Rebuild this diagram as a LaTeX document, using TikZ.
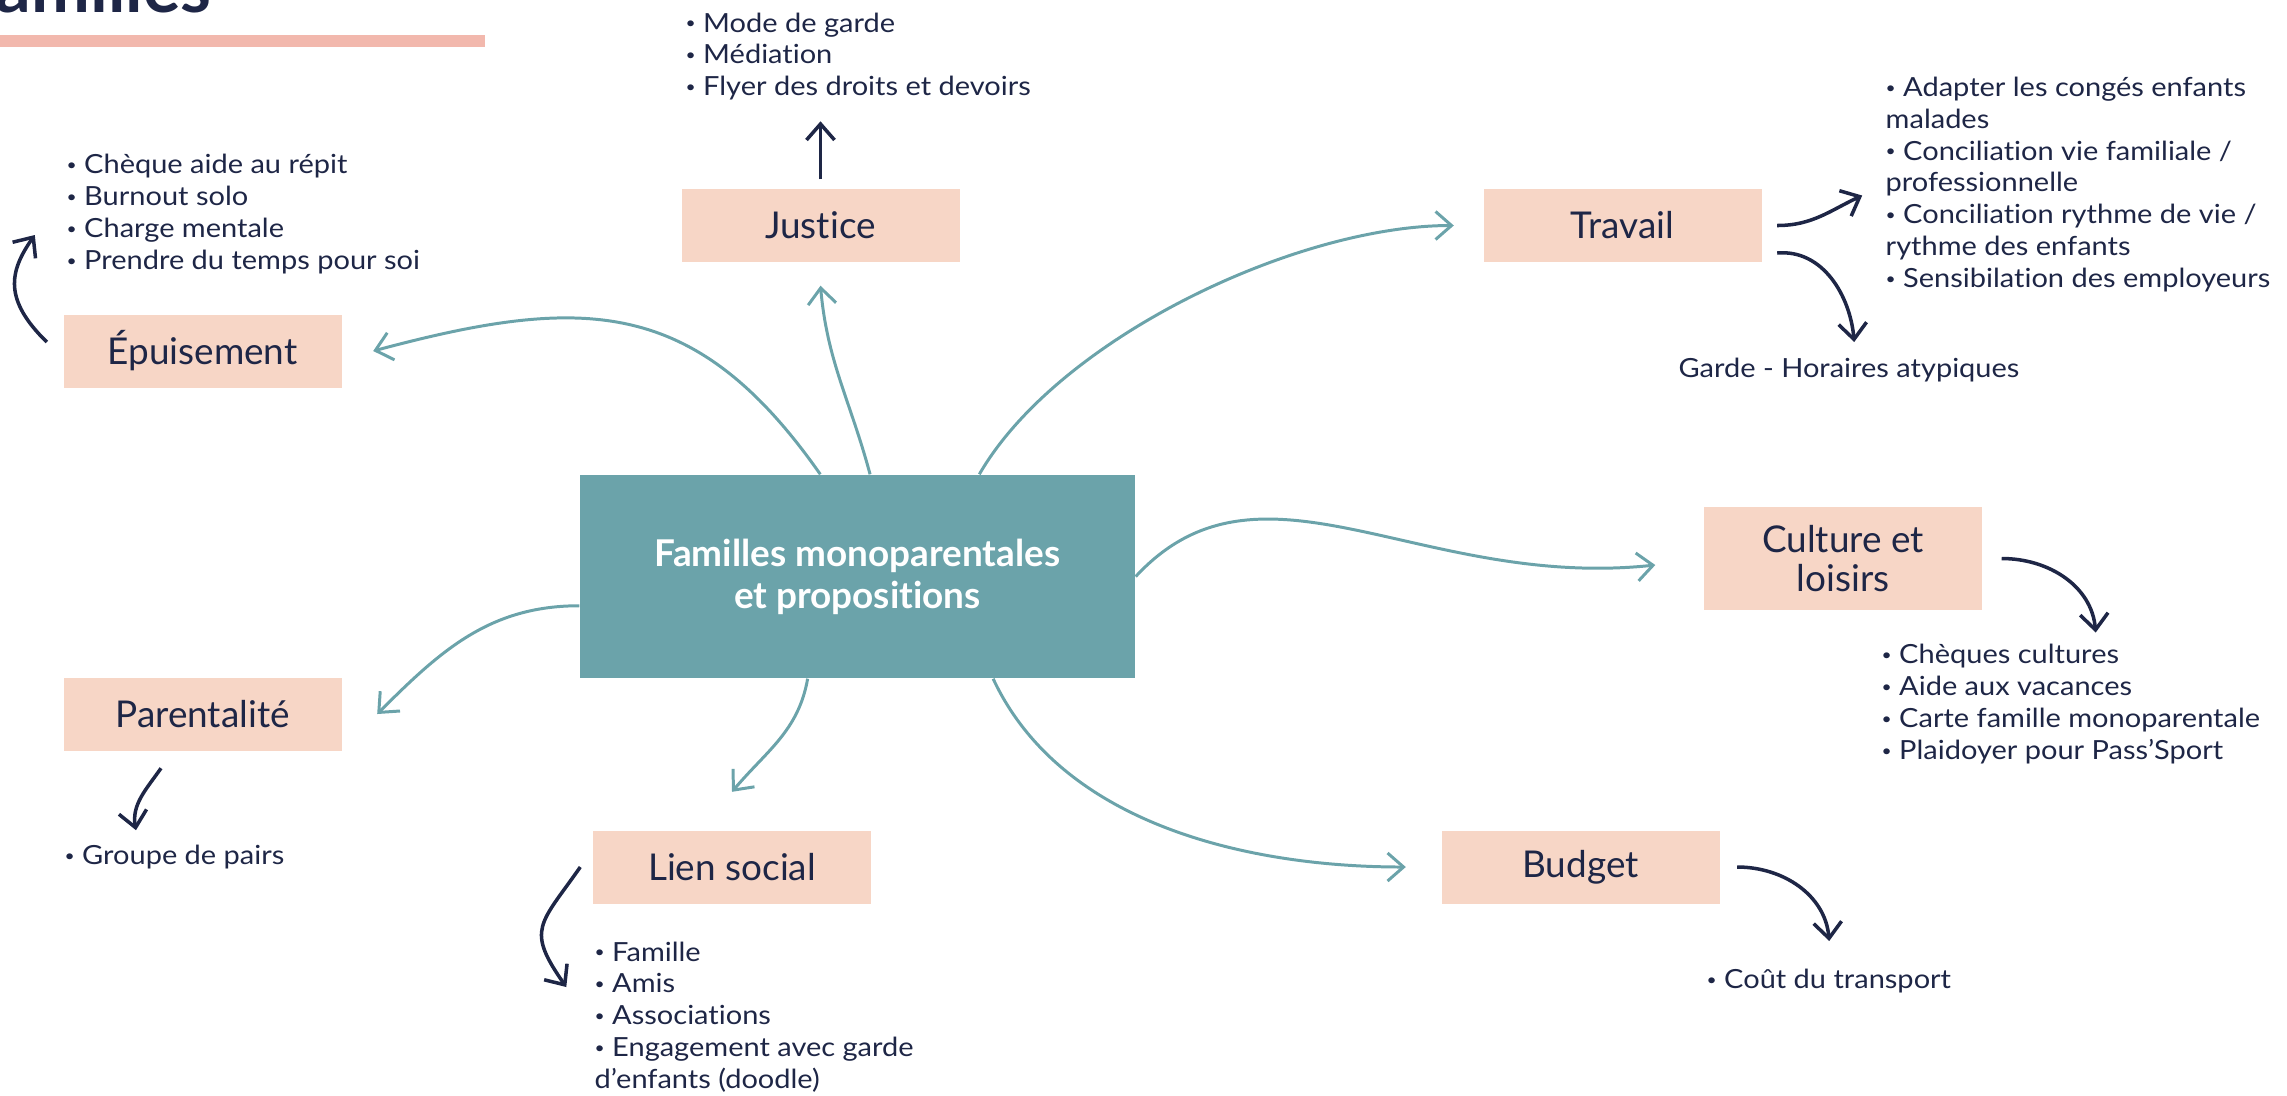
\documentclass[tikz,border=0pt]{standalone}
\usepackage{fontspec}
\setmainfont{Lato}[Ligatures=NoCommon]
\newfontfamily\listfont{Lato}[FakeStretch=1.1, Ligatures=NoCommon]
\usepackage{tikz}
\usetikzlibrary{arrows.meta,calc,positioning}
\definecolor{navy}{RGB}{30,38,70}
\definecolor{sea}{RGB}{107,163,170}
\definecolor{peach}{RGB}{247,214,198}
\definecolor{blush}{RGB}{242,184,173}
\newcommand{\dotmark}{\raisebox{.9pt}{\fontsize{4.5}{5}\selectfont•}}
\tikzset{
	mind map sketch/.style={
		x=0.1mm, y=0.1mm,
		link/.style={draw=sea, line width=0.85pt, -{Straight Barb[length=1.6mm,width=2.8mm]}},
		more/.style={draw=navy, line width=1pt, -{Straight Barb[length=1.6mm,width=2.8mm]}}
		},
	topic/.style={fill=peach, text=navy, minimum width=27.8mm, minimum height=7.3mm,
		inner sep=0pt, align=center, font=\fontsize{10.5}{11.2}\selectfont},
	core/.style={fill=sea, text=white, minimum width=55.5mm, minimum height=20.3mm,
		inner sep=0pt, align=center, font=\bfseries\fontsize{10.5}{11.9}\selectfont},
	items/.style={text=navy, anchor=west, inner sep=0pt, align=left,
		font=\listfont\fontsize{7.5}{9.07}\selectfont}
}

\begin{document}
\begin{tikzpicture}[mind map sketch]
	\clip (0,0) rectangle (2287,-1095);
	% what is left of the heading
	\node[anchor=base east, inner sep=0pt, text=navy, font=\bfseries\fontsize{20}{24}\selectfont] (heading) at (212,-12) {Familles};
	\fill[blush] (0,-35) rectangle (485,-47);
	% boxes
	\node[core] (hub) at (857.5,-576.5) {Familles monoparentales\\et propositions};
	\node[topic] (justice) at (820.5,-225.5) {Justice};
	\node[topic] (work) at (1622.5,-225.5) {Travail};
	\node[topic] (exhaust) at (202.5,-351) {Épuisement};
	\node[topic, minimum height=10.3mm] (culture) at (1843,-558.5) {Culture et\\loisirs};
	\node[topic] (parent) at (202.5,-714) {Parentalité};
	\node[topic] (social) at (732,-867) {Lien social};
	\node[topic] (budget) at (1580.5,-867) {Budget};
	% lists
	\node[items] (justicelist) at (685,-56.5) {\dotmark{} Mode de garde\\\dotmark{} Médiation\\\dotmark{} Flyer des droits et devoirs};
	\node[items] (exhaustlist) at (66,-214) {\dotmark{} Chèque aide au répit\\\dotmark{} Burnout solo\\\dotmark{} Charge mentale\\\dotmark{} Prendre du temps pour soi};
	\node[items] (worklist) at (1885,-184.5) {\dotmark{} Adapter les congés enfants\\malades\\\dotmark{} Conciliation vie familiale /\\professionnelle\\\dotmark{} Conciliation rythme de vie /\\rythme des enfants\\\dotmark{} Sensibilation des employeurs};
	\node[items, anchor=center] (garde) at (1849,-370) {Garde - Horaires atypiques};
	\node[items] (culturelist) at (1881,-704) {\dotmark{} Chèques cultures\\\dotmark{} Aide aux vacances\\\dotmark{} Carte famille monoparentale\\\dotmark{} Plaidoyer pour Pass’Sport};
	\node[items] (parentlist) at (64,-857) {\dotmark{} Groupe de pairs};
	\node[items] (sociallist) at (594,-1017) {\dotmark{} Famille\\\dotmark{} Amis\\\dotmark{} Associations\\\dotmark{} Engagement avec garde\\d’enfants (doodle)};
	\node[items] (budgetlist) at (1706,-981) {\dotmark{} Coût du transport};
	% teal links out of the hub
	\draw[link] (hub.110) to[out=125,in=15,looseness=1.2] ([xshift=3.1mm]exhaust.east);
	\draw[link] (hub.83) to[out=105,in=-85] ([yshift=-2.3mm]justice.south);
	\draw[link] (hub.40) to[out=60,in=180,looseness=.75] ([xshift=-2.9mm]work.west);
	\draw[link] (hub.east) .. controls +(125,135) and +(-236,-25) .. ([shift={(-4.8mm,-.65mm)}]culture.west);
	\draw[link] (hub.186) to[out=180,in=45] ([xshift=3.5mm]parent.east);
	\draw[link] (hub.244) to[out=-100,in=50] ([yshift=3.8mm]social.north);
	\draw[link] (hub.323) to[out=-65,in=180,looseness=.9] ([xshift=-3.5mm]budget.west);
	% navy arrows to the lists
	\draw[more] ([yshift=.9mm]justice.north) -- ([yshift=6.7mm]justice.north);
	\draw[more] ([shift={(-1.6mm,.9mm)}]exhaust.west) .. controls +(-43,42) and +(-26,-37) .. ([shift={(-2.8mm,11.6mm)}]exhaust.west);
	\draw[more] ([xshift=1.5mm]work.east) to[out=0,in=205] ([shift={(10mm,3mm)}]work.east);
	\draw[more] ([shift={(1.5mm,-2.75mm)}]work.east) to[out=5,in=95] ([shift={(9.2mm,-11.65mm)}]work.east);
	\draw[more] ([xshift=1.9mm]culture.east) to[out=0,in=95] ([shift={(11.3mm,-7.4mm)}]culture.east);
	\draw[more] ([shift={(-4.15mm,-1.7mm)}]parent.south) to[out=-125,in=100] ([shift={(-6.65mm,-7.9mm)}]parent.south);
	\draw[more] ([xshift=-1.2mm]social.west) to[out=-125,in=125,looseness=1.5] ([shift={(-2.6mm,-12mm)}]social.west);
	\draw[more] ([xshift=1.7mm]budget.east) to[out=0,in=95] ([shift={(10.9mm,-7.4mm)}]budget.east);
\end{tikzpicture}
\end{document}
